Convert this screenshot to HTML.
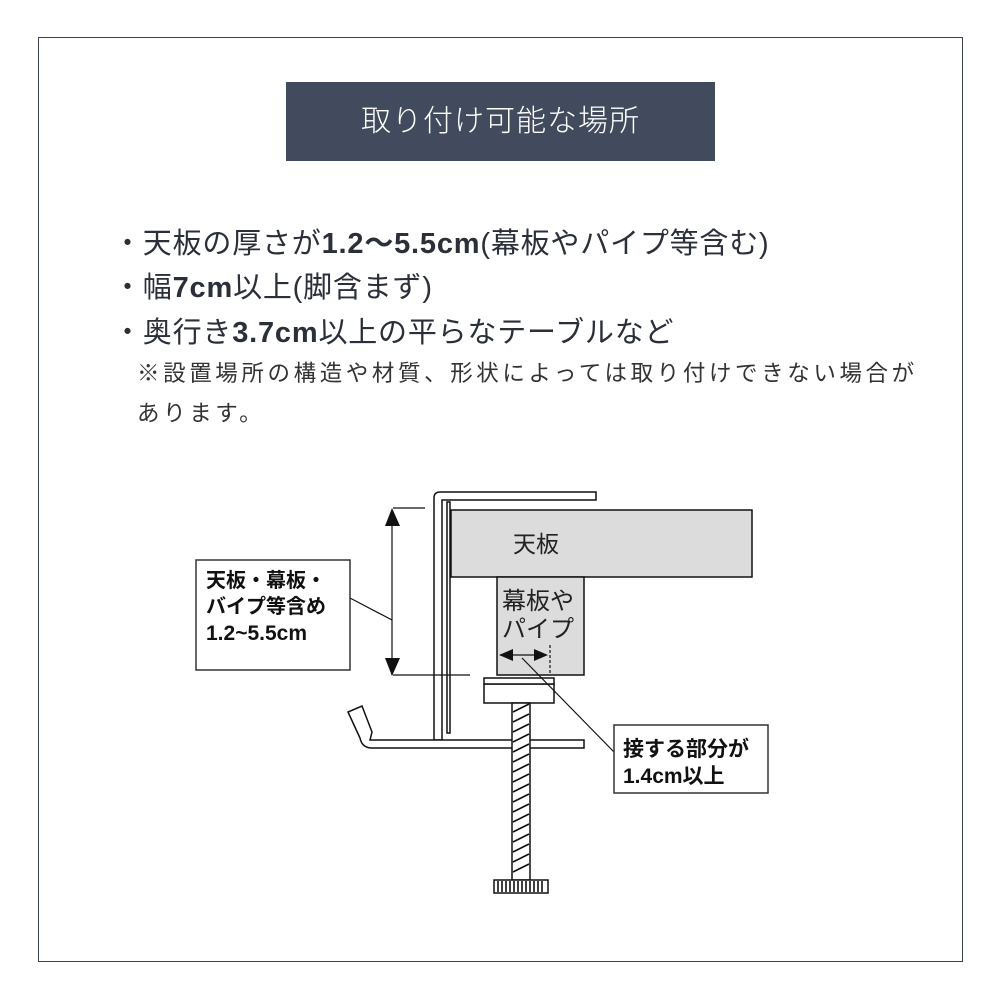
<!DOCTYPE html>
<html><head><meta charset="utf-8"><style>
body{margin:0;width:1000px;height:1000px;background:#fff;position:relative;font-family:"Liberation Sans","Noto Sans CJK JP",sans-serif;color:#2a2f3a;overflow:hidden}
.frame{position:absolute;left:38px;top:37px;width:923px;height:923px;border:1.5px solid #3a4252}
.title{position:absolute;left:286px;top:82px;width:429px;height:79px;background:#414b5d;color:#fff;font-size:30px;line-height:79px;text-align:center;letter-spacing:1px;font-weight:300}
.l{position:absolute;left:113px;font-size:29px;white-space:nowrap;transform-origin:left center;letter-spacing:0.8px}
.n{position:absolute;left:137px;font-size:22.5px;white-space:nowrap;letter-spacing:3.6px;color:#333}
b{font-weight:bold}
</style></head><body>
<div class="frame"></div>
<div class="title">取り付け可能な場所</div>
<div class="l" style="top:220px">・天板の厚さが<b>1.2〜5.5cm</b>(幕板やパイプ等含む)</div>
<div class="l" style="top:264px">・幅<b>7cm</b>以上(脚含まず)</div>
<div class="l" style="top:309px">・奥行き<b>3.7cm</b>以上の平らなテーブルなど</div>
<div class="n" style="top:356px">※設置場所の構造や材質、形状によっては取り付けできない場合が</div>
<div class="n" style="top:396px">あります。</div>
<svg width="1000" height="1000" style="position:absolute;left:0;top:0" font-family="Liberation Sans,Noto Sans CJK JP,sans-serif">
<g stroke="#111" stroke-width="1.5" fill="#fff">
<rect x="451" y="510" width="301" height="67" fill="#dcdcdc"/>
<rect x="497" y="577" width="87" height="98" fill="#dcdcdc"/>
<path d="M434 740 V498 Q434 492 440 492 H596 V500 H442 V740 Z"/>
<path d="M447 733 V502 H450 V733 Z"/>
<path d="M446 740 H584 V748 H372 Q362 748 360 738 L348 712 L362 706 L372 732 L370 740 Z"/>
<rect x="484" y="684" width="70" height="19"/>
<rect x="484" y="678" width="70" height="6"/>
<rect x="512" y="703" width="18" height="177"/>
<rect x="494" y="880" width="54" height="13"/>
</g>
<g stroke="#111" stroke-width="1.6">
<path d="M513 712 L529 704 M513 722 L529 714 M513 732 L529 724 M513 742 L529 734 M513 752 L529 744 M513 762 L529 754 M513 772 L529 764 M513 782 L529 774 M513 792 L529 784 M513 802 L529 794 M513 812 L529 804 M513 822 L529 814 M513 832 L529 824 M513 842 L529 834 M513 852 L529 844 M513 862 L529 854 M513 872 L529 864"/>
<path d="M498 881 V892 M502 881 V892 M506 881 V892 M510 881 V892 M514 881 V892 M518 881 V892 M522 881 V892 M526 881 V892 M530 881 V892 M534 881 V892 M538 881 V892 M542 881 V892"/>
</g>
<g stroke="#111" stroke-width="1.2" fill="none">
<path d="M392 510 V675"/>
<path d="M393 508 H425 M393 675 H470"/>
<path d="M350 598 L392 620"/>
<path d="M500 655 H546"/>
<path d="M550 645 V675" stroke-dasharray="3 2"/>
<path d="M522 658 L614 752"/>
</g>
<path d="M392 508 L385 526 H400 Z M392 676 L385 658 H400 Z" fill="#111"/>
<path d="M499 655 L513 649 V661 Z M548 655 L534 649 V661 Z" fill="#111"/>
<rect x="196" y="560" width="154" height="110" fill="#fff" stroke="#333" stroke-width="1.5"/>
<rect x="614" y="725" width="154" height="68" fill="#fff" stroke="#333" stroke-width="1.5"/>
<g font-weight="bold" font-size="20" fill="#111">
<text x="206" y="587">天板・幕板・</text>
<text x="206" y="613">バイプ等含め</text>
<text x="206" y="640" font-size="21">1.2~5.5cm</text>
<text x="623" y="756" font-size="21">接する部分が</text>
<text x="623" y="783" font-size="21">1.4cm以上</text>
</g>
<g font-size="23" fill="#222">
<text x="513" y="552">天板</text>
<text x="502" y="609" font-size="24">幕板や</text>
<text x="502" y="637" font-size="24">パイプ</text>
</g>
</svg>
</body></html>
